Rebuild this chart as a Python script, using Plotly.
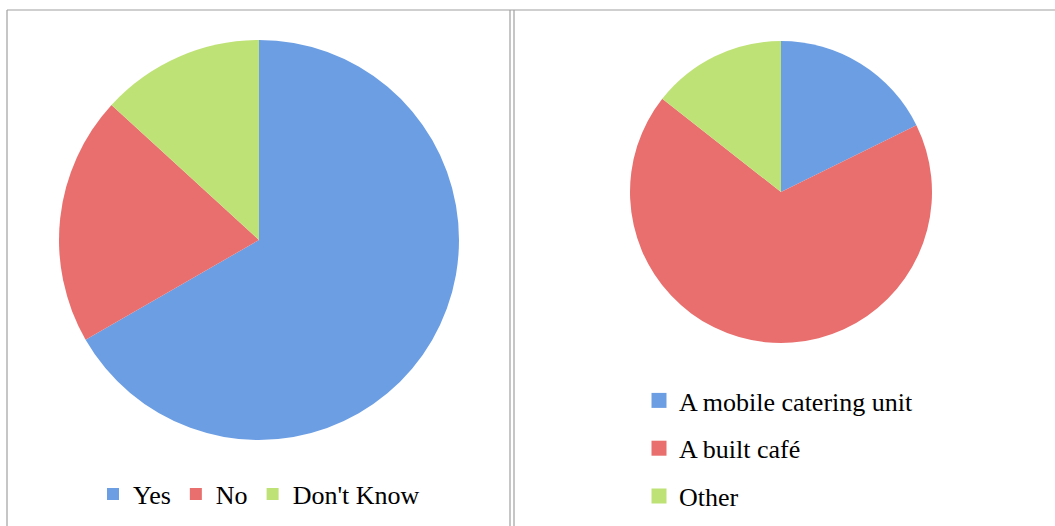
import plotly.graph_objects as go

# left chart: is a café wanted?
wanted_labels = ["Yes", "No", "Don't Know"]
wanted_values = [66.7, 20.1, 13.2]

# right chart: what kind of café
type_labels = ["A mobile catering unit", "A built café", "Other"]
type_values = [17.7, 67.9, 14.4]

colours = ["#6c9ee4", "#e86f6d", "#bfe276"]

W, H = 1055, 526
font = dict(family="Liberation Serif", size=26, color="black")

fig = go.Figure()

fig.add_trace(go.Pie(
    labels=wanted_labels, values=wanted_values,
    sort=False, direction="clockwise", rotation=0,
    textinfo="none", hoverinfo="label+percent",
    marker=dict(colors=colours, line=dict(width=0)),
    domain=dict(x=[59 / W, 459 / W], y=[1 - 440 / H, 1 - 40 / H]),
    legend="legend",
))

fig.add_trace(go.Pie(
    labels=type_labels, values=type_values,
    sort=False, direction="clockwise", rotation=0,
    textinfo="none", hoverinfo="label+percent",
    marker=dict(colors=colours, line=dict(width=0)),
    domain=dict(x=[630 / W, 932 / W], y=[1 - 344 / H, 1 - 40 / H]),
    showlegend=False,
))

# separate legend entries so the vertical spacing can match the original
for lab, col in zip(type_labels, colours):
    fig.add_trace(go.Scatter(
        x=[None], y=[None], mode="markers", name=lab,
        marker=dict(symbol="square", size=15, color=col),
        legend="legend2", legendgroup=lab, hoverinfo="skip",
    ))

# table cell borders
border = dict(color="#a0a0a0", width=1.2)
shapes = [
    dict(type="line", xref="paper", yref="paper", x0=7 / W, x1=1, y0=1 - 10 / H, y1=1 - 10 / H, line=border),
    dict(type="line", xref="paper", yref="paper", x0=7 / W, x1=7 / W, y0=0, y1=1 - 10 / H, line=border),
    dict(type="line", xref="paper", yref="paper", x0=510 / W, x1=510 / W, y0=0, y1=1 - 10 / H, line=border),
    dict(type="line", xref="paper", yref="paper", x0=514 / W, x1=514 / W, y0=0, y1=1 - 10 / H, line=border),
]

fig.update_layout(
    width=W, height=H,
    margin=dict(l=0, r=0, t=0, b=0),
    paper_bgcolor="white", plot_bgcolor="white",
    font=font,
    shapes=shapes,
    xaxis=dict(visible=False), yaxis=dict(visible=False),
    legend=dict(orientation="h", x=259 / W, xanchor="center", y=1 - 494 / H, yanchor="middle",
                font=font, bgcolor="rgba(0,0,0,0)"),
    legend2=dict(orientation="v", x=639 / W, xanchor="left", y=1 - 377 / H, yanchor="top",
                 font=font, tracegroupgap=11, bgcolor="rgba(0,0,0,0)"),
)

fig.write_html(
    "out.html",
    config={"displayModeBar": False},
    post_script="document.body.style.margin='0px';document.body.style.overflow='hidden';",
)
